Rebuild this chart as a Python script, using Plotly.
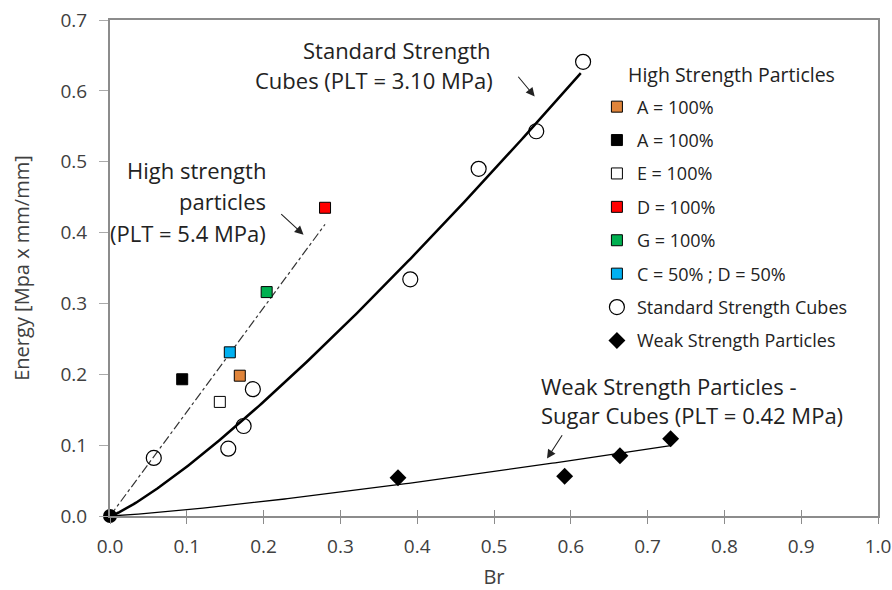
import numpy as np
import plotly.graph_objects as go

# ---- data ----
hs_names = ["A = 100%", "A = 100%", "E = 100%", "D = 100%", "G = 100%", "C = 50% ; D = 50%"]
hs_colors = ["#E0843A", "#000000", "#FFFFFF", "#FF0000", "#00B050", "#00B0F0"]
hs_x = [0.169, 0.094, 0.143, 0.280, 0.204, 0.156]
hs_y = [0.198, 0.193, 0.161, 0.435, 0.316, 0.231]

std_x = [0.057, 0.154, 0.174, 0.186, 0.391, 0.480, 0.555, 0.616]
std_y = [0.082, 0.095, 0.127, 0.179, 0.334, 0.490, 0.543, 0.641]

weak_x = [0.375, 0.592, 0.664, 0.730]
weak_y = [0.054, 0.056, 0.085, 0.109]

# trendline parameters
hs_slope = 1.47          # linear, through origin
hs_xmax = 0.280
std_a, std_b = 1.13, 1.21   # power law y = a x^b
std_xmax = 0.613
weak_a, weak_b = 0.146, 1.22
weak_xmax = 0.730

FONT = "Open Sans"
TXT = "#404040"
DARK = "#222222"

fig = go.Figure()

# trendlines
xl = np.linspace(0, hs_xmax, 50)
fig.add_trace(go.Scatter(x=xl, y=hs_slope * xl, mode="lines",
                         line=dict(color="#333333", width=1.2, dash="dashdot"),
                         showlegend=False, hoverinfo="skip"))
xs = np.linspace(0, std_xmax, 200)
fig.add_trace(go.Scatter(x=xs, y=std_a * xs ** std_b, mode="lines",
                         line=dict(color="black", width=2.5),
                         showlegend=False, hoverinfo="skip"))
xw = np.linspace(0, weak_xmax, 200)
fig.add_trace(go.Scatter(x=xw, y=weak_a * xw ** weak_b, mode="lines",
                         line=dict(color="black", width=1.3),
                         showlegend=False, hoverinfo="skip"))

# high strength particles
for i, (n, c, x, y) in enumerate(zip(hs_names, hs_colors, hs_x, hs_y)):
    fig.add_trace(go.Scatter(x=[x], y=[y], mode="markers", name=n,
                             legendgroup=f"g{i}",
                             marker=dict(symbol="square", size=11, color=c,
                                         line=dict(color="black", width=1))))

fig.add_trace(go.Scatter(x=std_x, y=std_y, mode="markers", name="Standard Strength Cubes",
                         legendgroup="std",
                         marker=dict(symbol="circle-open", size=15, color="black",
                                     line=dict(color="black", width=1.2))))
fig.add_trace(go.Scatter(x=weak_x, y=weak_y, mode="markers", name="Weak Strength Particles",
                         legendgroup="weak",
                         marker=dict(symbol="diamond", size=13, color="black")))
# origin point
fig.add_trace(go.Scatter(x=[0], y=[0], mode="markers", showlegend=False, cliponaxis=False,
                         marker=dict(symbol="circle", size=14, color="black")))
# invisible trace to carry the overlaid axis used for the inner half of the x ticks
fig.add_trace(go.Scatter(x=[0.5], y=[0.3], mode="markers", xaxis="x2", showlegend=False,
                         marker=dict(size=1, opacity=0), hoverinfo="skip"))

ann = []
def txt(x, y, t, xanchor="center", size=22):
    ann.append(dict(x=x, y=y, xref="x", yref="y", text=t, showarrow=False,
                    xanchor=xanchor, yanchor="middle",
                    font=dict(family=FONT, size=size, color=DARK)))

def arrow(x0, y0, x1, y1):
    ann.append(dict(x=x1, y=y1, ax=x0, ay=y0, xref="x", yref="y", axref="x", ayref="y",
                    text="", showarrow=True, arrowhead=2, arrowsize=1.6, arrowwidth=1.1,
                    arrowcolor=DARK))

# Standard strength annotation
txt(0.374, 0.657, "Standard Strength")
txt(0.344, 0.615, "Cubes (PLT = 3.10 MPa)")
arrow(0.530, 0.622, 0.553, 0.592)
# High strength annotation
txt(0.206, 0.488, "High strength", xanchor="right")
txt(0.206, 0.445, "particles", xanchor="right")
txt(0.206, 0.400, "(PLT = 5.4 MPa)", xanchor="right")
arrow(0.221, 0.428, 0.252, 0.397)
# Weak strength annotation
txt(0.558, 0.184, "Weak Strength Particles -", xanchor="left")
txt(0.558, 0.142, "Sugar Cubes (PLT = 0.42 MPa)", xanchor="left")
arrow(0.590, 0.116, 0.569, 0.081)

# legend title as a separate text
ann.append(dict(x=(731 - 110) / 768, y=(516 - 74) / 496, xref="paper", yref="paper",
                text="High Strength Particles", showarrow=False,
                xanchor="center", yanchor="middle",
                font=dict(family=FONT, size=19.5, color=DARK)))

fig.update_layout(
    width=892, height=590,
    margin=dict(l=110, r=14, t=20, b=74),
    paper_bgcolor="white", plot_bgcolor="white",
    font=dict(family=FONT, size=18, color=TXT),
    annotations=ann,
    legend=dict(x=0.634, y=0.862, xanchor="left", yanchor="top",
                bgcolor="rgba(255,255,255,0)",
                font=dict(family=FONT, size=18, color=DARK),
                tracegroupgap=7, itemwidth=30),
    xaxis2=dict(overlaying="x", range=[0, 1.0], tick0=0, dtick=0.1,
                showticklabels=False, showgrid=False, zeroline=False, showline=False,
                ticks="inside", ticklen=6, tickcolor="#8C8C8C", tickwidth=1,
                side="bottom", anchor="y"),
)
fig.layout.xaxis.update(range=[0, 1.0], tick0=0, dtick=0.1, tickformat=".1f",
                 showgrid=False, zeroline=False, automargin=False,
                 showline=True, linecolor="#8C8C8C", linewidth=2, mirror=True,
                 ticks="outside", ticklen=6, tickcolor="#8C8C8C", tickwidth=1,
                 ticklabelstandoff=6,
                 title=dict(text="Br", font=dict(family=FONT, size=20, color=TXT), standoff=12),
                 tickfont=dict(family=FONT, size=19, color=TXT))
fig.layout.yaxis.update(range=[0, 0.7], tick0=0, dtick=0.1, tickformat=".1f",
                 showgrid=False, zeroline=False, automargin=False,
                 showline=True, linecolor="#8C8C8C", linewidth=2, mirror=True,
                 ticks="outside", ticklen=9, tickcolor="#AAAAAA", tickwidth=1,
                 ticklabelstandoff=8,
                 title=dict(text="Energy [Mpa x mm/mm]", font=dict(family=FONT, size=20, color=TXT),
                            standoff=25),
                 tickfont=dict(family=FONT, size=19, color=TXT))

fig.write_html("out.html")
